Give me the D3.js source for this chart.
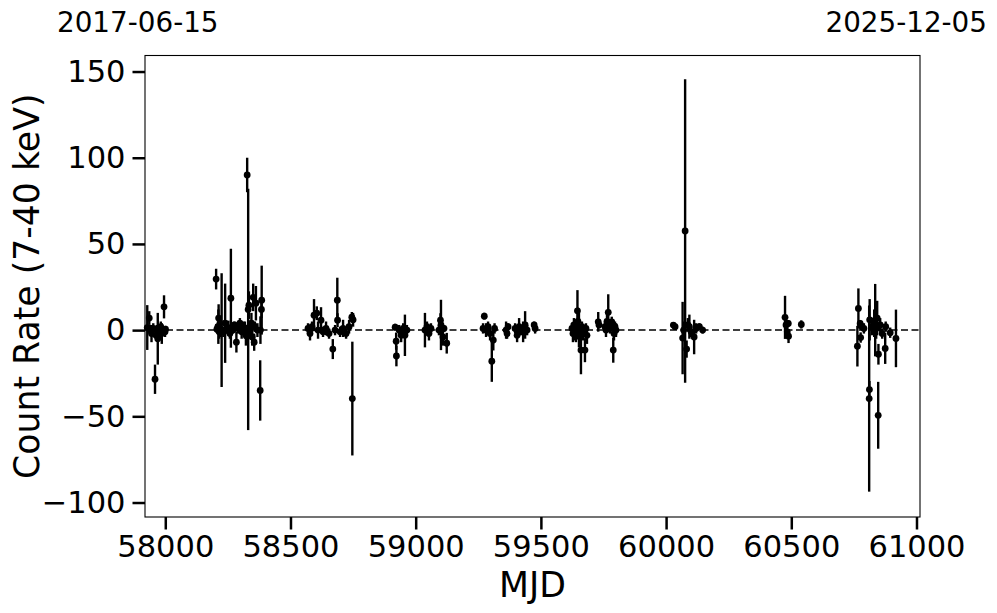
<!DOCTYPE html>
<html>
<head>
<meta charset="utf-8">
<script src="https://cdn.jsdelivr.net/npm/d3@7"></script>
<style>
  body { margin: 0; background: #fff; }
  text { font-family: "DejaVu Sans", sans-serif; fill: #000; }
</style>
</head>
<body>
<div id="my_dataviz"></div>
<script>
// light curve, MJD vs count rate (7-40 keV) with 1-sigma errors
const mjd = [
  57928, 57936, 57940, 57945, 57952, 57959, 57963, 57966, 57970, 57974, 57978, 57982, 57986, 57990, 57995, 57999, 58001,
  58203, 58206, 58210, 58212, 58213, 58215, 58220, 58225, 58232, 58239, 58245, 58252, 58258, 58262, 58270, 58276, 58284,
  58290, 58298, 58305, 58312, 58318, 58322, 58327, 58331, 58334, 58338, 58344, 58347, 58351, 58355, 58358, 58362, 58368,
  58379, 58380, 58384, 58385,
  58570, 58578, 58586, 58594, 58605, 58610, 58622, 58630, 58642, 58654, 58669, 58678, 58687, 58688, 58698, 58710, 58722,
  58734, 58745, 58747, 58750,
  58918, 58922, 58923, 58934, 58942, 58950, 58957, 58965,
  59037, 59045, 59053, 59061, 59093, 59099, 59101, 59109, 59113, 59124,
  59269, 59274, 59281, 59289, 59297, 59304, 59310, 59315,
  59361, 59365, 59369, 59397, 59405, 59413, 59421, 59429, 59437, 59445, 59473, 59477,
  59624, 59628, 59632, 59636, 59640, 59646, 59648, 59652, 59656, 59660, 59664, 59668, 59676, 59680, 59684,
  59729, 59732,
  59756, 59760, 59764, 59769, 59776, 59783, 59789, 59792, 59796, 59800,
  60029, 60036, 60066, 60070, 60076, 60082, 60087, 60093, 60100, 60112, 60120, 60133, 60146,
  60475, 60479, 60484, 60488, 60489, 60540,
  60764, 60768, 60775, 60777, 60782, 60790, 60811, 60812, 60813, 60823, 60831, 60835, 60839, 60843, 60847, 60848,
  60855, 60863, 60875, 60877, 60895, 60918
];
const rate = [
  1.5, 7, 0, -2, 1, -28.5, -3, 0, -5, 1, -1, 2, -2, 0, 13.5, -1, 0.5,
  29.6, 0.5, 2, 2, 7, -1, 1, 0, -1, 4, 0, 1.5, -2, 18.5, 0, 3, -7,
  1, 4, -1, 2, 0, -3, 90, 12, 14.5, -1, 4, -4, 19, -7, 2, 15.6, 0,
  -35, 0, 12, 17.4,
  1, -2, 2, 8.7, 9.8, 0, 5.8, -1, 1, -2, -11, 0, 17.4, 5.8, -1, 1, -2,
  2, 7.5, -39.7, 6,
  1.7, -6.4, -15, 0, -3, 1, -3, 0,
  0, 2, -2, 1, 0, 5.8, 3, -4, 1, -7.6,
  1, 8.1, 0, 2, -2, -18, -5.8, 1,
  0, -2, 2, 1, -3, 2, 0, -1, 3, 0, 3, 1,
  1, -2, 3, 0, -3, 11.2, 5, 0, -4, -11.6, 2, -2, -11.6, 1, -3,
  4.8, 3,
  2, 0, 5, 10.3, 1, 4.8, -11.6, -2, 2, 0,
  2.9, 2, -4.6, 0, 57.5, -11, 3, 2, -1, -4, 1, 2, 0,
  7.4, 3, -1, 3.9, -3.5, 3.3,
  -9.3, 12.6, 3.9, -4.3, 2, 1, -39.7, -34.5, 6, 2, 4, 5.8, 1, 7, -49.4, -14,
  3, -2, -10.6, 2, -1.5, -4.8
];
const rateErr = [
  13, 4, 3, 5, 3, 8.5, 2, 3, 15, 2, 4, 3, 6, 2, 6.7, 3, 2,
  6, 2, 3, 10, 8, 4, 5, 33, 3, 23, 2, 4, 3, 28.7, 2, 2, 6,
  3, 3, 4, 3, 5, 6, 10, 70, 8, 4, 6, 5, 8, 5, 3, 10, 4,
  17.5, 8, 5, 20,
  3, 4, 3, 9.3, 4, 5, 7.5, 3, 4, 3, 5.8, 3, 13, 4, 3, 5, 3,
  4, 3, 33, 4,
  2, 5, 6, 3, 4, 3, 12, 3,
  10, 3, 4, 3, 3, 4, 14.6, 5, 2, 6,
  3, 2, 4, 3, 4, 12, 6, 3,
  5, 3, 2, 3, 4, 5, 3, 6, 8, 3, 2, 3,
  3, 5, 4, 6, 4, 12, 8, 10, 5, 14, 3, 4, 7, 3, 5,
  5.7, 2,
  3, 4, 6, 10.5, 3, 3, 7.3, 4, 3, 4,
  1.5, 1.5, 21, 5, 88, 5, 4, 7, 3, 10, 3, 2, 2,
  12.5, 3, 3, 2, 4, 2.4,
  11.8, 11.6, 2, 3, 2, 3, 54, 5, 12, 5, 8, 21, 6, 10, 19.4, 6,
  4, 3, 9, 3, 3, 16.7
];

const xTicks = [58000, 58500, 59000, 59500, 60000, 60500, 61000];
const yTicks = [-100, -50, 0, 50, 100, 150];
const xLimits = [57919, 61014];
const yLimits = [-108.4, 159.3];
const startDate = "2017-06-15";
const endDate = "2025-12-05";

const totalWidth = 997, totalHeight = 613;
const marginLeft = 145, marginRight = 77, marginTop = 55.5, marginBottom = 96;
const width = totalWidth - marginLeft - marginRight;
const height = totalHeight - marginTop - marginBottom;
const tickFont = "30.5px";

const data = mjd.map((d, i) => ({ mjd: d, rate: rate[i], err: rateErr[i] }));

const svg = d3.select("#my_dataviz")
  .append("svg")
    .attr("width", totalWidth)
    .attr("height", totalHeight);

const g = svg.append("g")
  .attr("transform", "translate(" + marginLeft + "," + marginTop + ")");

const x = d3.scaleLinear().domain(xLimits).range([0, width]);
const y = d3.scaleLinear().domain(yLimits).range([height, 0]);

// zero line
g.append("line")
  .attr("x1", 0).attr("x2", width)
  .attr("y1", y(0)).attr("y2", y(0))
  .attr("stroke", "#000")
  .attr("stroke-width", 1.5)
  .attr("stroke-dasharray", "7,3.5");

// error bars
g.append("g")
  .selectAll("line")
  .data(data)
  .enter().append("line")
    .attr("x1", d => x(d.mjd)).attr("x2", d => x(d.mjd))
    .attr("y1", d => y(d.rate - d.err)).attr("y2", d => y(d.rate + d.err))
    .attr("stroke", "#000")
    .attr("stroke-width", 2.4);

g.append("g")
  .selectAll("circle")
  .data(data)
  .enter().append("circle")
    .attr("cx", d => x(d.mjd))
    .attr("cy", d => y(d.rate))
    .attr("r", 3.4)
    .style("fill", "#000");

// axes
const xAxis = g.append("g")
  .attr("transform", "translate(0," + height + ")")
  .call(d3.axisBottom(x).tickValues(xTicks).tickFormat(d3.format("d")).tickSize(12.5).tickPadding(6));
const yAxis = g.append("g")
  .call(d3.axisLeft(y).tickValues(yTicks).tickFormat(d => d < 0 ? "\u2212" + Math.abs(d) : d).tickSize(12.5).tickPadding(7));

[xAxis, yAxis].forEach(ax => {
  ax.select(".domain").remove();
  ax.selectAll(".tick line").attr("stroke", "#000").attr("stroke-width", 2.5);
  ax.selectAll(".tick text").style("font-size", tickFont).style("font-family", "DejaVu Sans");
});

// frame
g.append("rect")
  .attr("width", width).attr("height", height)
  .attr("fill", "none").attr("stroke", "#000").attr("stroke-width", 1.1);

// labels
svg.append("text")
  .attr("x", marginLeft + width / 2).attr("y", 597)
  .attr("text-anchor", "middle")
  .style("font-size", "34.7px")
  .text("MJD");

svg.append("text")
  .attr("transform", "translate(39," + (marginTop + height / 2) + ") rotate(-90)")
  .attr("text-anchor", "middle")
  .style("font-size", "34.7px")
  .text("Count Rate (7-40 keV)");

svg.append("text")
  .attr("x", 57).attr("y", 32)
  .style("font-size", "27.8px")
  .text(startDate);

svg.append("text")
  .attr("x", 987).attr("y", 32)
  .attr("text-anchor", "end")
  .style("font-size", "27.8px")
  .text(endDate);
</script>
</body>
</html>
